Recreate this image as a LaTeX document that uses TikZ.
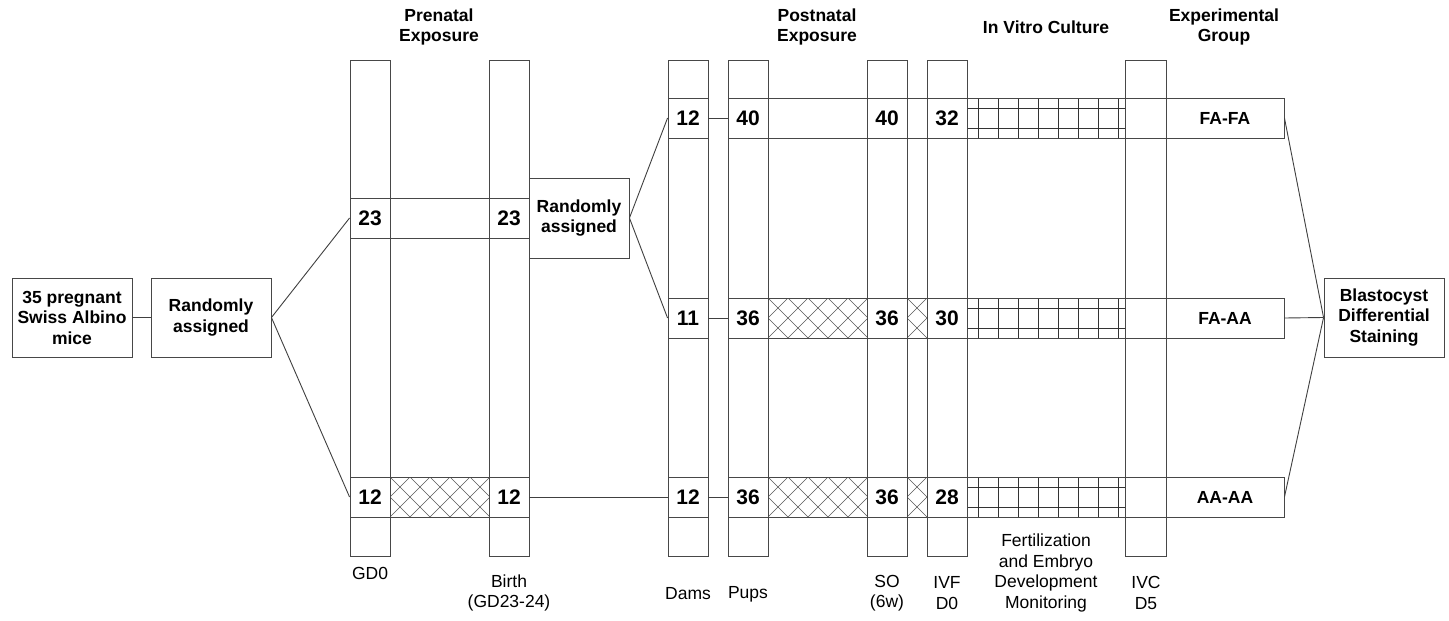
\documentclass[tikz,border=0pt]{standalone}
\usepackage{fontspec}
\setmainfont{Liberation Sans}
\newcommand\xhatch[4]{%
  \begin{scope}
    \clip (#1,#2) rectangle (#3,#4);
    \foreach \k in {-2,...,7} {
      \draw[hatchln] ({#1+20*\k},#2) -- ++(40,40);
      \draw[hatchln] ({#1+20*\k},#2) -- ++(-40,40);
    }
  \end{scope}}
\newcommand\ivcgrid[1]{%
  \foreach \gx in {978,998,1018,1038,1058,1078,1098,1118}
    \draw[gridln] (\gx,#1) -- (\gx,{#1+40});
  \draw[gridln] (967,{#1+10}) -- (1125,{#1+10});
  \draw[gridln] (967,{#1+30}) -- (1125,{#1+30});}
\begin{document}
\begin{tikzpicture}[x=1pt,y=-1pt,
  ln/.style={draw=black!72, line width=0.9pt},
  gridln/.style={draw=black!80, line width=0.8pt},
  hatchln/.style={draw=black!65, line width=0.6pt},
  conn/.style={draw=black!75, line width=0.9pt},
  col/.style={ln, minimum width=40pt, minimum height=496pt, inner sep=0pt},
  cell/.style={ln, minimum width=40pt, minimum height=40pt, inner sep=0pt, font=\fontsize{21}{24}\selectfont\bfseries},
  grp/.style={ln, minimum width=118pt, minimum height=40pt, inner sep=0pt, font=\fontsize{17.5}{20.5}\selectfont\bfseries},
  box/.style={ln, minimum width=120pt, minimum height=79pt, inner sep=0pt, align=center, font=\fontsize{17.5}{20.5}\selectfont\bfseries},
  head/.style={align=center, inner sep=0pt, font=\fontsize{17.5}{20.5}\selectfont\bfseries},
  lab/.style={align=center, inner sep=0pt, font=\fontsize{17.5}{20.5}\selectfont}]
\useasboundingbox (0,0) rectangle (1449,621);
\fill[white] (0,0) rectangle (1449,621);

% hatches
\xhatch{390}{477}{489}{517}
\xhatch{768}{298}{867}{338}
\xhatch{907}{298}{927}{338}
\xhatch{768}{477}{867}{517}
\xhatch{907}{477}{927}{517}
% in vitro grids
\ivcgrid{98}
\ivcgrid{298}
\ivcgrid{477}

% rows
\draw[ln] (350,198) rectangle (529,238);
\draw[ln] (350,477) rectangle (529,517);
\draw[ln] (728,98) rectangle (1166,138);
\draw[ln] (728,298) rectangle (1166,338);
\draw[ln] (728,477) rectangle (1166,517);

% columns
\node[col] (gd0) at (370,308) {};
\node[col] (birth) at (509,308) {};
\node[col] (dams) at (688,308) {};
\node[col] (pups) at (748,308) {};
\node[col] (so) at (887,308) {};
\node[col] (ivf) at (947,308) {};
\node[col, minimum width=41pt] (ivc) at (1145.5,308) {};

% cells
\node[cell] (p23a) at (370,218) {23};
\node[cell] (p23b) at (509,218) {23};
\node[cell] (p12a) at (370,497) {12};
\node[cell] (p12b) at (509,497) {12};
\node[cell] (d12a) at (688,118) {12};
\node[cell] (d11) at (688,318) {11};
\node[cell] (d12b) at (688,497) {12};
\node[cell] (u40) at (748,118) {40};
\node[cell] (u36a) at (748,318) {36};
\node[cell] (u36b) at (748,497) {36};
\node[cell] (s40) at (887,118) {40};
\node[cell] (s36a) at (887,318) {36};
\node[cell] (s36b) at (887,497) {36};
\node[cell] (v32) at (947,118) {32};
\node[cell] (v30) at (947,318) {30};
\node[cell] (v28) at (947,497) {28};

% group boxes
\node[grp] (gfafa) at (1225,118) {FA-FA};
\node[grp] (gfaaa) at (1225,318) {FA-AA};
\node[grp] (gaaaa) at (1225,497) {AA-AA};

% boxes
\node[box] (mice) at (72,317.5) {35 pregnant\\Swiss Albino\\mice};
\node[box] (ra1) at (211,317.5) {Randomly\\assigned};
\node[box, minimum width=100pt, minimum height=80pt] (ra2) at (579,218) {Randomly\\assigned};
\node[box] (blast) at (1384,317.5) {Blastocyst\\Differential\\Staining};

% connectors
\draw[conn] (mice) -- (ra1);
\draw[conn] (ra1.east) -- (p23a.west);
\draw[conn] (ra1.east) -- (p12a.west);
\draw[conn] (ra2.east) -- (d12a.west);
\draw[conn] (ra2.east) -- (d11.west);
\draw[conn] (p12b.east) -- (d12b.west);
\draw[conn] (d12a.east) -- (u40.west);
\draw[conn] (d11.east) -- (u36a.west);
\draw[conn] (d12b.east) -- (u36b.west);
\draw[conn] (gfafa.east) -- (blast.west);
\draw[conn] (gfaaa.east) -- (blast.west);
\draw[conn] (gaaaa.east) -- (blast.west);

% headings
\node[head] (hpre) at (439,27) {Prenatal\\Exposure};
\node[head] (hpost) at (817,27) {Postnatal\\Exposure};
\node[head] (hivc) at (1046,27) {In Vitro Culture};
\node[head] (hgrp) at (1224,27) {Experimental\\Group};

% bottom labels
\node[lab] (lgd0) at (370,573) {GD0};
\node[lab] (lbirth) at (509,593) {Birth\\(GD23-24)};
\node[lab] (ldams) at (688,594) {Dams};
\node[lab] (lpups) at (748,594) {Pups};
\node[lab] (lso) at (887,593) {SO\\(6w)};
\node[lab] (livf) at (947,593) {IVF\\D0};
\node[lab] (lfert) at (1046,573) {Fertilization\\and Embryo\\Development\\Monitoring};
\node[lab] (livc) at (1146,593) {IVC\\D5};
\end{tikzpicture}
\end{document}
